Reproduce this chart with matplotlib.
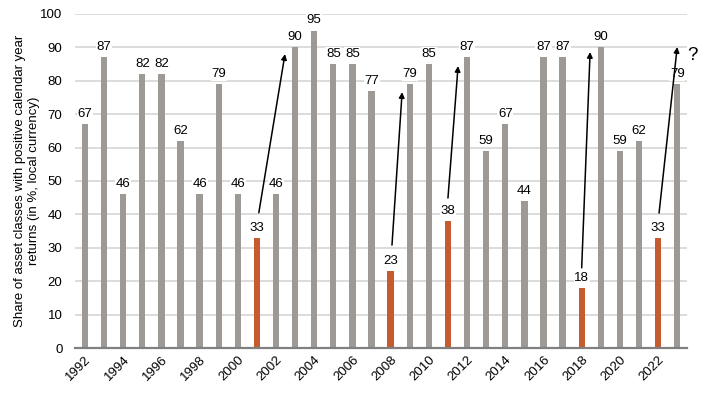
import matplotlib
matplotlib.use("Agg")
import matplotlib.pyplot as plt
import numpy as np

plt.rcParams['font.family'] = ['Liberation Sans', 'DejaVu Sans']

years = list(range(1992, 2024))
values = [67, 87, 46, 82, 82, 62, 46, 79, 46, 33, 46, 90, 95, 85, 85, 77,
          23, 79, 85, 38, 87, 59, 67, 44, 87, 87, 18, 90, 59, 62, 33, 79]
highlight_years = [2001, 2008, 2011, 2018, 2022]
# arrows: (start year offset, start value, end year offset, end value)
arrow_starts = [(2001.1, 40.5), (2008.07, 30.8), (2011.0, 44.9), (2018.0, 24.0), (2022.05, 40.4)]
arrow_ends = [(2002.47, 88.0), (2008.6, 76.6), (2011.53, 84.4), (2018.44, 88.6), (2023.0, 90.1)]
y_label = "Share of asset classes with positive calendar year\nreturns (in %, local currency)"

grey = "#9D9A96"
orange = "#C65B2F"

fig = plt.figure(figsize=(7.08, 3.98), dpi=100)
ax = fig.add_axes([0.106, 0.1256, 0.864, 0.8394])

colors = [orange if y in highlight_years else grey for y in years]
ax.bar(years, values, width=0.33, color=colors, zorder=3)

for y, v in zip(years, values):
    ax.annotate(str(v), (y, v), xytext=(0, 3), textcoords="offset points",
                ha="center", va="bottom", fontsize=9.5, zorder=5,
                bbox=dict(boxstyle="square,pad=0.05", fc="white", ec="none"))

for (sx, sy), (ex, ey) in zip(arrow_starts, arrow_ends):
    ax.annotate("", xy=(ex, ey), xytext=(sx, sy),
                arrowprops=dict(arrowstyle="-|>", color="black", lw=1.1,
                                mutation_scale=8, shrinkA=0, shrinkB=0),
                zorder=6)

ax.text(2023.5, 87.7, "?", fontsize=13.5, ha="left", va="center")

ax.set_xlim(1991.48, 2023.5)
ax.set_ylim(0, 100)
ax.set_yticks(range(0, 101, 10))
ax.set_xticks(range(1992, 2023, 2))
ax.set_xticklabels([str(y) for y in range(1992, 2023, 2)], rotation=45,
                   ha="right", rotation_mode="anchor", fontsize=9.5)
ax.tick_params(axis='y', labelsize=9.5, length=0, pad=9)
ax.tick_params(axis='x', length=0, pad=4)
ax.grid(axis='y', color="#D9D9D9", lw=1.3, zorder=0)
for s in ["left", "right", "top"]:
    ax.spines[s].set_visible(False)
ax.spines["bottom"].set_color("#808080")
ax.spines["bottom"].set_linewidth(1.6)
ax.spines["bottom"].set_zorder(4)
ax.set_ylabel(y_label, fontsize=9.5, labelpad=0, linespacing=1.25)

fig.savefig("out.png", dpi=100)
